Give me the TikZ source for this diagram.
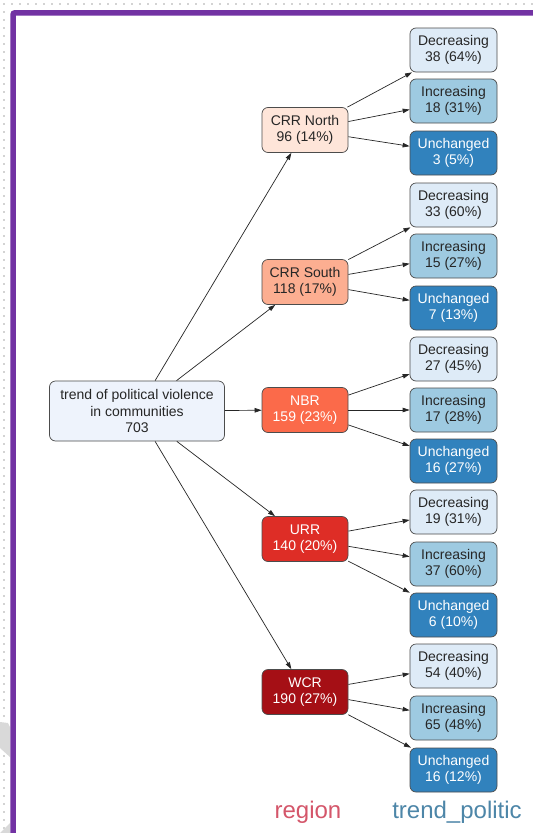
\documentclass[tikz,border=0pt]{standalone}
\usepackage{fontspec}
\setmainfont{Liberation Sans}
\usetikzlibrary{arrows.meta}
\definecolor{frameP}{RGB}{114,50,163}
\definecolor{rootF}{RGB}{238,243,252}
\definecolor{redA}{HTML}{FEE5D9}
\definecolor{redB}{HTML}{FCAE91}
\definecolor{redC}{HTML}{FB6A4A}
\definecolor{redD}{HTML}{DE2D26}
\definecolor{redE}{HTML}{A50F15}
\definecolor{bluA}{HTML}{DEEBF7}
\definecolor{bluB}{HTML}{9ECAE1}
\definecolor{bluC}{HTML}{3182BD}
\definecolor{legR}{RGB}{212,86,106}
\definecolor{legB}{RGB}{77,134,168}
\tikzset{
  box/.style={draw=black!70, line width=0.7pt, rounded corners=6pt, align=center,
    inner sep=1pt, font=\fontsize{14}{16.5}\selectfont, text=black!85},
  rootbox/.style={box, fill=rootF, minimum width=175pt, minimum height=60pt},
  regbox/.style={box, minimum width=86pt, minimum height=45pt},
  leafbox/.style={box, minimum width=87pt, minimum height=44pt},
  dec/.style={leafbox, fill=bluA},
  inc/.style={leafbox, fill=bluB},
  unc/.style={leafbox, fill=bluC, text=white},
  edge/.style={draw=black!85, line width=0.7pt, -{Triangle[length=7pt,width=4.5pt]}},
  legend/.style={font=\fontsize{24}{28}\selectfont, inner sep=0pt}
}
\begin{document}
\begin{tikzpicture}[x=1pt,y=-1pt]
\useasboundingbox (0,0) rectangle (533,833);
\fill[white] (0,0) rectangle (533,833);
% dotted backdrop
\foreach \i in {0,...,66} \fill[black!35] (4+\i*8,4) circle (0.9pt);
\foreach \j in {1,...,103} \fill[black!35] (4,4+\j*8) circle (0.9pt);
\fill[black!15] (0,722) -- (8,723) -- (10,727) -- (10,757) -- (0,748) -- cycle;
\fill[black!15] (0,833) -- (10,823) -- (10,833) -- cycle;
% purple frame
\draw[frameP, line width=5.5pt, rounded corners=2pt] (13,833) -- (13,12.75) -- (533,12.75);

% root
\node[rootbox] (root) at (137,411) {trend of political violence\\in communities\\703};

% regions
\node[regbox, fill=redA] (cn) at (305,130) {CRR North\\96 (14\%)};
\node[regbox, fill=redB] (cs) at (305,282) {CRR South\\118 (17\%)};
\node[regbox, fill=redC, text=white] (nb) at (305,410) {NBR\\159 (23\%)};
\node[regbox, fill=redD, text=white] (ur) at (305,539) {URR\\140 (20\%)};
\node[regbox, fill=redE, text=white] (wc) at (305,692) {WCR\\190 (27\%)};

% leaves
\node[dec] (cn1) at (453.5,50) {Decreasing\\38 (64\%)};
\node[inc] (cn2) at (453.5,101) {Increasing\\18 (31\%)};
\node[unc] (cn3) at (453.5,153) {Unchanged\\3 (5\%)};
\node[dec] (cs1) at (453.5,205) {Decreasing\\33 (60\%)};
\node[inc] (cs2) at (453.5,256) {Increasing\\15 (27\%)};
\node[unc] (cs3) at (453.5,308) {Unchanged\\7 (13\%)};
\node[dec] (nb1) at (453.5,359) {Decreasing\\27 (45\%)};
\node[inc] (nb2) at (453.5,410) {Increasing\\17 (28\%)};
\node[unc] (nb3) at (453.5,461) {Unchanged\\16 (27\%)};
\node[dec] (ur1) at (453.5,512) {Decreasing\\19 (31\%)};
\node[inc] (ur2) at (453.5,564) {Increasing\\37 (60\%)};
\node[unc] (ur3) at (453.5,615) {Unchanged\\6 (10\%)};
\node[dec] (wc1) at (453.5,666) {Decreasing\\54 (40\%)};
\node[inc] (wc2) at (453.5,718) {Increasing\\65 (48\%)};
\node[unc] (wc3) at (453.5,770) {Unchanged\\16 (12\%)};

% edges
\foreach \r in {cn,cs,nb,ur,wc} {
  \draw[edge] (root) -- (\r);
  \draw[edge] (\r) -- (\r1);
  \draw[edge] (\r) -- (\r2);
  \draw[edge] (\r) -- (\r3);
}

% legend
\node[legend, text=legR] (lr) at (308,812) {region};
\node[legend, text=legB] (lt) at (457,812) {trend\_politic};
\end{tikzpicture}
\end{document}
